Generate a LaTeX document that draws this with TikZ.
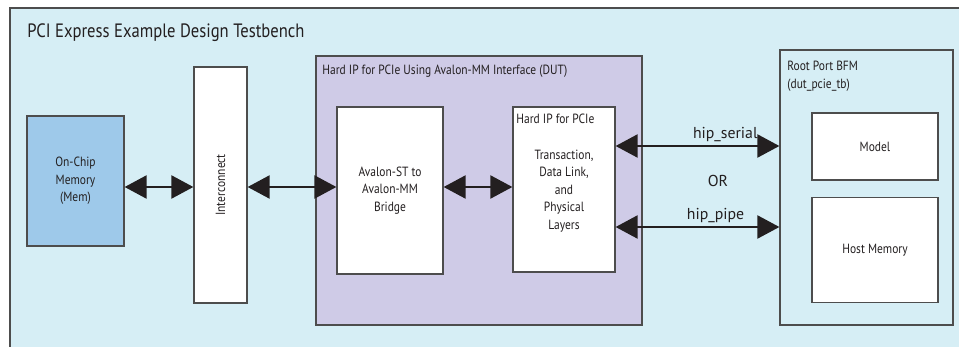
\documentclass[tikz,border=0pt]{standalone}
\usepackage{fontspec}
\newfontfamily\condsf[FakeStretch=0.86]{PT Sans}
\newfontfamily\widesf{PT Sans}
\usetikzlibrary{arrows.meta, positioning}
\definecolor{benchblue}{RGB}{214,238,245}
\definecolor{memblue}{RGB}{158,201,234}
\definecolor{dutlilac}{RGB}{207,203,231}
\definecolor{edgegray}{RGB}{77,77,77}
\definecolor{inkblack}{RGB}{35,31,32}

\begin{document}
\begin{tikzpicture}[x=0.02cm, y=-0.02cm, text=inkblack,
    box/.style={draw=edgegray, line width=0.7pt, rectangle, fill=white, align=center,
      inner sep=0pt, font=\condsf\fontsize{7.6}{10}\selectfont},
    tag/.style={inner sep=0pt, align=left, font=\condsf\fontsize{7.6}{10}\selectfont},
    link/.style={draw=inkblack, line width=1.5pt,
      {Triangle[length=12.5pt, width=13pt]}-{Triangle[length=12.5pt, width=13pt]}},
    sig/.style={inner sep=0pt, font=\widesf\fontsize{9}{10}\selectfont}]
  \useasboundingbox (0,0) rectangle (959,347);
  \clip (0,0) rectangle (959,347);

  % testbench frame
  \draw[draw=edgegray, fill=benchblue, line width=0.7pt] (10,8) rectangle (975,360);
  \node[anchor=base west, inner sep=0pt, font=\condsf\fontsize{11}{12}\selectfont]
    (title) at (27,38) {PCI Express Example Design Testbench};

  % left side
  \node[box, fill=memblue, minimum width=1.94cm, minimum height=2.6cm]
    (mem) at (75.5,181) {On-Chip\\Memory\\(Mem)};
  \node[box, rotate=90, minimum width=4.72cm, minimum height=1.06cm]
    (ic) at (220.5,185) {Interconnect};

  % DUT
  \node[box, fill=dutlilac, minimum width=6.52cm, minimum height=5.38cm]
    (dut) at (479,190.5) {};
  \node[tag, anchor=base west] (duttitle) at (322,75)
    {Hard IP for PCIe Using Avalon-MM Interface (DUT)};
  \node[box, minimum width=2.12cm, minimum height=3.34cm]
    (bridge) at (390,190.5) {Avalon-ST to\\Avalon-MM\\Bridge};
  \node[box, minimum width=2.04cm, minimum height=3.3cm]
    (hip) at (564,189.5) {};
  \node[tag, anchor=base west] (hiptitle) at (516,124) {Hard IP for PCIe};
  \node[tag, align=center] (hipbody) at (564,191)
    {Transaction,\\Data Link,\\and\\Physical\\Layers};

  % root port
  \node[box, fill=benchblue, minimum width=3.46cm, minimum height=5.5cm]
    (rp) at (866.5,187.5) {};
  \node[tag, anchor=north west] (rptitle) at (787,61)
    {Root Port BFM\\(dut\_pcie\_tb)};
  \node[box, minimum width=2.52cm, minimum height=1.34cm]
    (model) at (875,146.5) {Model};
  \node[box, minimum width=2.52cm, minimum height=2.1cm, below=0.32cm of model]
    (host) {Host Memory};

  % connections
  \coordinate (row) at (0,187);
  \coordinate (serialrow) at (0,146);
  \coordinate (piperow) at (0,227);
  \draw[link] (mem.east |- row) -- (ic.north |- row);
  \draw[link] (ic.south |- row) -- (bridge.west |- row);
  \draw[link] (bridge.east |- row) -- (hip.west |- row);
  \draw[link] (hip.east |- serialrow) -- node[sig, pos=0.67, anchor=base, yshift=4.5pt]
    (serial) {hip\_serial} (rp.west |- serialrow);
  \draw[link] (hip.east |- piperow) -- node[sig, pos=0.61, anchor=base, yshift=4pt]
    (pipe) {hip\_pipe} (rp.west |- piperow);
  \node[sig] (or) at (718,181) {OR};
\end{tikzpicture}
\end{document}
